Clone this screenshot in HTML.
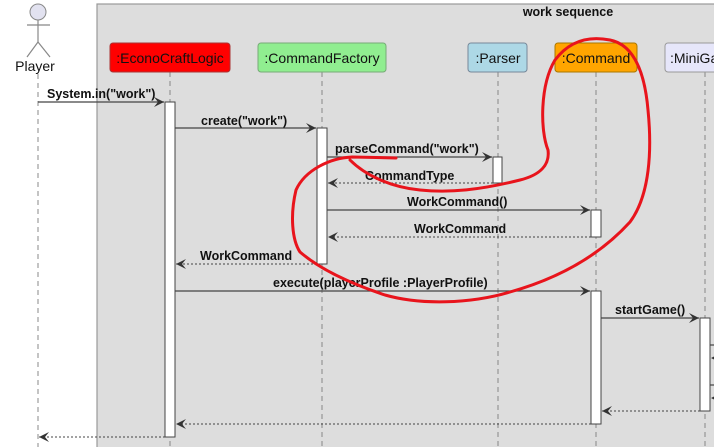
<!DOCTYPE html>
<html><head><meta charset="utf-8"><style>
html,body{margin:0;padding:0;background:#fff;width:714px;height:447px;overflow:hidden}
svg text{font-family:"Liberation Sans",sans-serif}
.b{font-weight:bold;font-size:12.5px;fill:#111}
.h{font-size:14px;fill:#111}
</style></head><body>
<svg width="714" height="447" viewBox="0 0 714 447" xmlns="http://www.w3.org/2000/svg">
<defs>
<marker id="a" markerWidth="12" markerHeight="10" refX="10" refY="5" orient="auto" markerUnits="userSpaceOnUse"><path d="M0,0 L10,5 L0,10 L4,5 Z" fill="#333"/></marker>
</defs>
<rect x="97" y="4" width="640" height="460" fill="#dddddd" stroke="#999" stroke-width="1.2"/>
<text x="568" y="16" class="b" text-anchor="middle">work sequence</text>
<circle cx="38" cy="12" r="8" fill="#e2e2f0" stroke="#888"/>
<g stroke="#888" stroke-width="1.2" fill="none"><line x1="38" y1="20" x2="38" y2="42"/><line x1="27" y1="25" x2="50" y2="25"/><line x1="38" y1="42" x2="27" y2="57"/><line x1="38" y1="42" x2="50" y2="57"/></g>
<text x="35" y="71" class="h" text-anchor="middle" font-size="13">Player</text>
<g stroke="#888" stroke-dasharray="5,4" stroke-width="1">
<line x1="38" y1="74" x2="38" y2="447"/><line x1="170" y1="72" x2="170" y2="447"/><line x1="322" y1="72" x2="322" y2="447"/><line x1="498" y1="72" x2="498" y2="447"/><line x1="596" y1="72" x2="596" y2="447"/><line x1="705" y1="72" x2="705" y2="447"/>
</g>
<rect x="110" y="43" width="120" height="29" rx="3" fill="#ff0000" stroke="#a33"/>
<text x="170" y="63" class="h" text-anchor="middle">:EconoCraftLogic</text>
<rect x="258" y="43" width="128" height="29" rx="3" fill="#90ee90" stroke="#7a7"/>
<text x="322" y="63" class="h" text-anchor="middle">:CommandFactory</text>
<rect x="468" y="43" width="59" height="29" rx="3" fill="#add8e6" stroke="#789"/>
<text x="498" y="63" class="h" text-anchor="middle">:Parser</text>
<rect x="555" y="43" width="82" height="29" rx="3" fill="#ffa500" stroke="#a70"/>
<text x="596" y="63" class="h" text-anchor="middle">:Command</text>
<rect x="665" y="43" width="60" height="29" rx="3" fill="#e6e6fa" stroke="#999"/>
<text x="670" y="63" class="h">:MiniGame</text>
<g fill="#fff" stroke="#444" stroke-width="1">
<rect x="165" y="102" width="10" height="335"/>
<rect x="317" y="128" width="10" height="136"/>
<rect x="493" y="157" width="9" height="26"/>
<rect x="591" y="210" width="10" height="27"/>
<rect x="591" y="291" width="10" height="133"/>
<rect x="700" y="318" width="10" height="93"/>
</g>
<g stroke="#444" stroke-width="1.2" fill="none">
<line x1="38" y1="102" x2="164" y2="102" marker-end="url(#a)"/>
<line x1="175" y1="128" x2="316" y2="128" marker-end="url(#a)"/>
<line x1="327" y1="157" x2="492" y2="157" marker-end="url(#a)"/>
<line x1="327" y1="210" x2="590" y2="210" marker-end="url(#a)"/>
<line x1="175" y1="291" x2="590" y2="291" marker-end="url(#a)"/>
<line x1="601" y1="318" x2="699" y2="318" marker-end="url(#a)"/>
<line x1="710" y1="345" x2="714" y2="345"/><line x1="710" y1="385" x2="714" y2="385"/>
</g>
<g stroke="#444" stroke-width="1" stroke-dasharray="2,2" fill="none">
<line x1="493" y1="183" x2="328" y2="183" marker-end="url(#a)"/>
<line x1="591" y1="237" x2="328" y2="237" marker-end="url(#a)"/>
<line x1="317" y1="264" x2="176" y2="264" marker-end="url(#a)"/>
<line x1="700" y1="411" x2="602" y2="411" marker-end="url(#a)"/>
<line x1="591" y1="424" x2="176" y2="424" marker-end="url(#a)"/>
<line x1="165" y1="437" x2="39" y2="437" marker-end="url(#a)"/>
<line x1="714" y1="358" x2="711" y2="358" marker-end="url(#a)"/>
<line x1="714" y1="398" x2="711" y2="398" marker-end="url(#a)"/>
</g>
<text x="47" y="98" class="b">System.in("work")</text>
<text x="201" y="125" class="b">create("work")</text>
<text x="335" y="153" class="b">parseCommand("work")</text>
<text x="365" y="180" class="b">CommandType</text>
<text x="407" y="206" class="b">WorkCommand()</text>
<text x="414" y="233" class="b">WorkCommand</text>
<text x="200" y="260" class="b">WorkCommand</text>
<text x="273" y="287" class="b">execute(playerProfile :PlayerProfile)</text>
<text x="615" y="314" class="b">startGame()</text>
<path d="M396,158 L352,157 C330,158 305,170 296,190 C290,215 292,240 300,252 C315,265 340,280 385,295 C420,305 470,304 510,292 C560,278 600,255 630,222 C650,195 652,150 648,110 C645,75 635,45 610,40 C590,36 570,40 555,60 C540,85 540,130 548,150 C550,165 540,175 520,180 C480,190 450,193 420,190 C390,187 365,175 350,160" fill="none" stroke="#e8141c" stroke-width="3" stroke-linecap="round" stroke-linejoin="round"/>
</svg>
</body></html>
